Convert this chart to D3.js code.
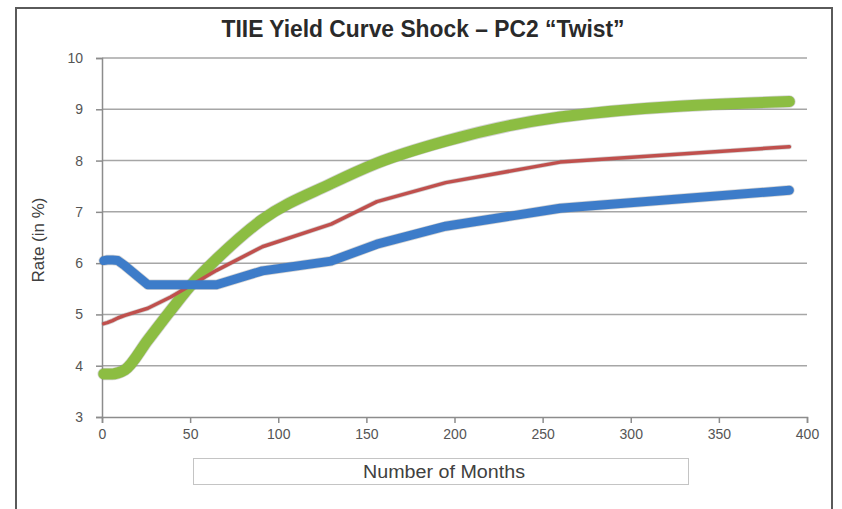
<!DOCTYPE html>
<html>
<head>
<meta charset="utf-8">
<script src="https://cdn.jsdelivr.net/npm/d3@7"></script>
<style>
  html, body { margin: 0; padding: 0; background: #fff; }
  svg { display: block; }
</style>
</head>
<body>
<svg id="chart" width="842" height="509"></svg>
<script>
// Swap tenors in 28-day months
const months = [1, 3, 6, 9, 13, 26, 39, 52, 65, 91, 130, 156, 195, 260, 390];

// Curve levels (in %)
const baseCurve  = [4.82, 4.84, 4.88, 4.93, 4.98, 5.12, 5.34, 5.60, 5.86, 6.32, 6.76, 7.20, 7.57, 7.97, 8.27];
const twistUp    = [3.84, 3.84, 3.84, 3.86, 3.92, 4.50, 5.08, 5.63, 6.08, 6.85, 7.55, 7.95, 8.38, 8.85, 9.15];
const twistDown  = [6.05, 6.06, 6.06, 6.05, 5.95, 5.58, 5.58, 5.58, 5.58, 5.85, 6.04, 6.37, 6.72, 7.07, 7.42];

const yTicks = [3, 4, 5, 6, 7, 8, 9, 10];
const xTicks = [0, 50, 100, 150, 200, 250, 300, 350, 400];

const titleText = "TIIE Yield Curve Shock – PC2 “Twist”";
const yTitle = "Rate (in %)";
const xTitle = "Number of Months";

const svg = d3.select("#chart");
const font = "'Liberation Sans', Arial, sans-serif";

const x = d3.scaleLinear().domain([0, 400]).range([102, 807]);
const y = d3.scaleLinear().domain([3, 10]).range([417, 58]);

// outer frame
svg.append("path")
  .attr("d", "M16,520 L16,8 L832,8 L832,520")
  .attr("fill", "none")
  .attr("stroke", "#5a5a5a")
  .attr("stroke-width", 2);

// title
svg.append("text")
  .attr("x", 423).attr("y", 37)
  .attr("text-anchor", "middle")
  .attr("font-family", font)
  .attr("font-weight", "bold")
  .attr("font-size", 23)
  .attr("textLength", 403)
  .attr("lengthAdjust", "spacingAndGlyphs")
  .attr("fill", "#2a2a2a")
  .text(titleText);

// horizontal gridlines
svg.append("g").selectAll("line")
  .data(yTicks.filter(d => d > 3))
  .join("line")
  .attr("x1", x(0)).attr("x2", x(400))
  .attr("y1", d => y(d)).attr("y2", d => y(d))
  .attr("stroke", "#a6a6a6")
  .attr("stroke-width", 1.5);

// y axis
const yAxis = svg.append("g")
  .attr("transform", `translate(${x(0)},0)`)
  .call(d3.axisLeft(y).tickValues(yTicks).tickSize(6).tickPadding(13).tickFormat(d3.format("d")));
yAxis.select(".domain").attr("stroke", "#8c8c8c").attr("stroke-width", 1.5);
yAxis.selectAll(".tick line").attr("stroke", "#8c8c8c").attr("stroke-width", 1.5);
yAxis.selectAll(".tick text")
  .attr("font-family", font).attr("font-size", 14).attr("fill", "#555");

// x axis
const xAxis = svg.append("g")
  .attr("transform", `translate(0,${y(3)})`)
  .call(d3.axisBottom(x).tickValues(xTicks).tickSize(6).tickPadding(6).tickFormat(d3.format("d")));
xAxis.select(".domain").attr("stroke", "#8c8c8c").attr("stroke-width", 1.5);
xAxis.selectAll(".tick line").attr("stroke", "#8c8c8c").attr("stroke-width", 1.5);
xAxis.selectAll(".tick text")
  .attr("font-family", font).attr("font-size", 14).attr("fill", "#555");

// y title
svg.append("text")
  .attr("transform", "translate(44,240) rotate(-90)")
  .attr("text-anchor", "middle")
  .attr("font-family", font)
  .attr("font-size", 17)
  .attr("fill", "#404040")
  .text(yTitle);

// x title in a box
svg.append("rect")
  .attr("x", 193.5).attr("y", 458.5)
  .attr("width", 495).attr("height", 26)
  .attr("fill", "#fff")
  .attr("stroke", "#c4c4c4")
  .attr("stroke-width", 1);
svg.append("text")
  .attr("x", 444).attr("y", 478)
  .attr("text-anchor", "middle")
  .attr("font-family", font)
  .attr("font-size", 18)
  .attr("textLength", 162)
  .attr("lengthAdjust", "spacingAndGlyphs")
  .attr("fill", "#404040")
  .text(xTitle);

// curves: the shocked-up curve is smoothed, the others are drawn segment by segment
const makeLine = curve => d3.line()
  .x((d, i) => x(months[i]))
  .y(d => y(d))
  .curve(curve);
const series = [
  { values: twistUp,   color: "#8cbd42", width: 11,  curve: d3.curveMonotoneX },
  { values: baseCurve, color: "#c0504d", width: 3.5, curve: d3.curveLinear },
  { values: twistDown, color: "#3d7cc9", width: 9,   curve: d3.curveLinear }
];

// faint edge beneath each curve
svg.append("g").selectAll("path")
  .data(series)
  .join("path")
  .attr("d", d => makeLine(d.curve)(d.values))
  .attr("fill", "none")
  .attr("stroke", "#808080")
  .attr("stroke-opacity", 0.35)
  .attr("stroke-width", d => d.width + 1.5)
  .attr("stroke-linejoin", "round")
  .attr("stroke-linecap", "round");

svg.append("g").selectAll("path")
  .data(series)
  .join("path")
  .attr("d", d => makeLine(d.curve)(d.values))
  .attr("fill", "none")
  .attr("stroke", d => d.color)
  .attr("stroke-width", d => d.width)
  .attr("stroke-linejoin", "round")
  .attr("stroke-linecap", "round");
</script>
</body>
</html>
